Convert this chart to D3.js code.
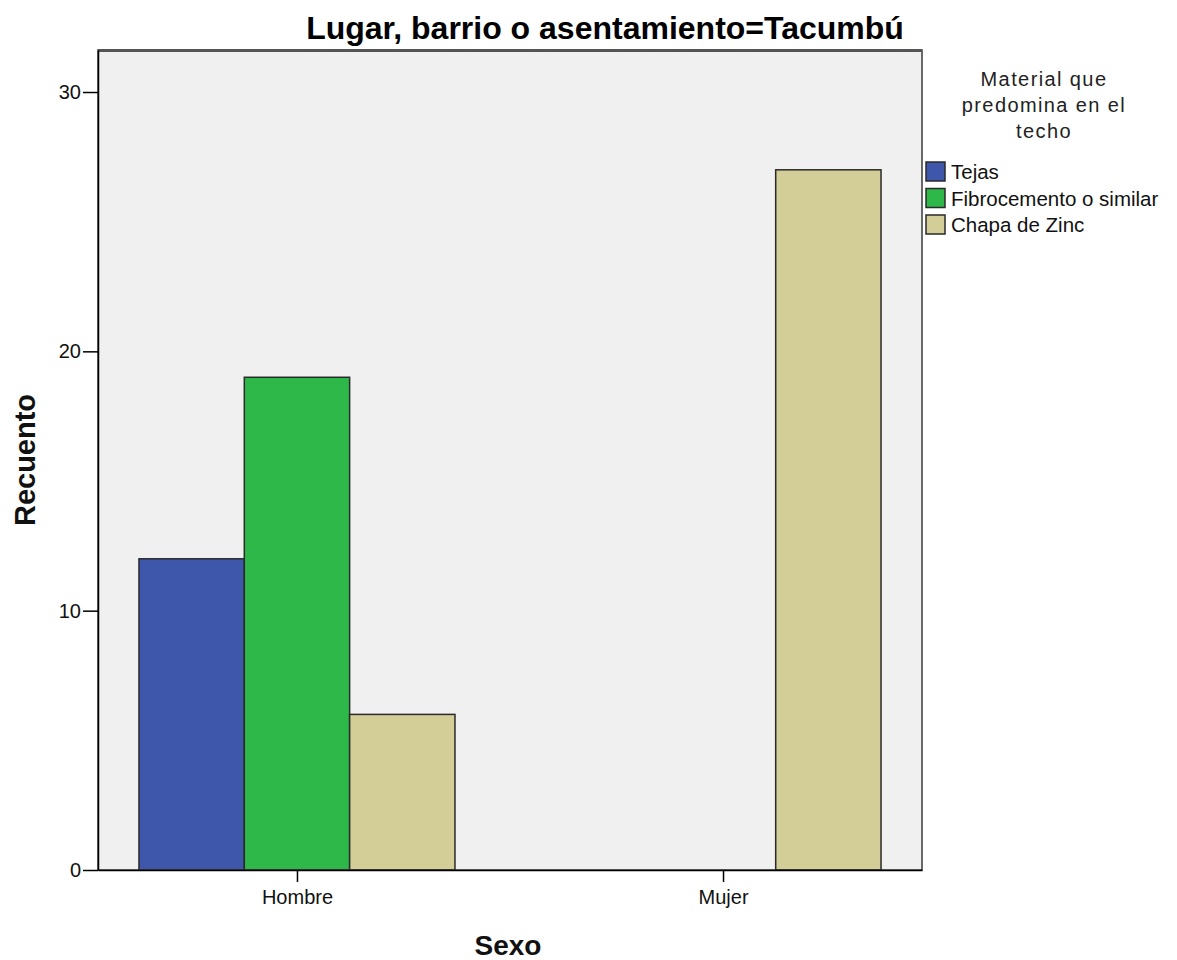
<!DOCTYPE html>
<html>
<head>
<meta charset="utf-8">
<script src="https://cdn.jsdelivr.net/npm/d3@7"></script>
<style>
  html, body { margin: 0; padding: 0; background: #fff; }
  svg { display: block; font-family: "Liberation Sans", Arial, sans-serif; }
</style>
</head>
<body>
<svg id="chart" width="1177" height="960"></svg>
<script>
// Counts of roof material by sex, Tacumbú
const categories = ["Hombre", "Mujer"];
const seriesNames = ["Tejas", "Fibrocemento o similar", "Chapa de Zinc"];
const tejas = [12, 0];
const fibrocemento = [19, 0];
const chapaZinc = [6, 27];
const yTicks = [0, 10, 20, 30];
const seriesColors = ["#3e57ab", "#2eb84a", "#d3cd97"];

const seriesValues = [tejas, fibrocemento, chapaZinc];

const svg = d3.select("#chart");
const plot = { left: 98, right: 922, top: 50, bottom: 870 };

const x0 = d3.scalePoint()
  .domain(categories)
  .range([plot.left, plot.right])
  .padding(0.467);

const x1 = d3.scaleBand()
  .domain(seriesNames)
  .range([-158, 158]);

const y = d3.scaleLinear()
  .domain([0, 31.62])
  .range([plot.bottom, plot.top]);

// plot background
svg.append("rect")
  .attr("x", plot.left).attr("y", plot.top)
  .attr("width", plot.right - plot.left)
  .attr("height", plot.bottom - plot.top)
  .attr("fill", "#f0f0f0");

// bars
const rows = [];
categories.forEach((c, i) => {
  seriesNames.forEach((s, j) => {
    const v = seriesValues[j][i];
    if (v > 0) rows.push({ cat: c, ser: s, value: v, color: seriesColors[j] });
  });
});

svg.append("g").selectAll("rect")
  .data(rows)
  .join("rect")
  .attr("x", d => x0(d.cat) + x1(d.ser))
  .attr("y", d => y(d.value))
  .attr("width", x1.bandwidth())
  .attr("height", d => y(0) - y(d.value))
  .attr("fill", d => d.color)
  .attr("stroke", "#2a2a2a")
  .attr("stroke-width", 1.5);

// frame
svg.append("rect")
  .attr("x", plot.left).attr("y", plot.top)
  .attr("width", plot.right - plot.left)
  .attr("height", plot.bottom - plot.top)
  .attr("fill", "none")
  .attr("stroke", "#3a3a3a")
  .attr("stroke-width", 1.5);
svg.append("line")
  .attr("x1", plot.left).attr("x2", plot.right)
  .attr("y1", plot.top + 0.5).attr("y2", plot.top + 0.5)
  .attr("stroke", "#555").attr("stroke-width", 3);

// y axis
const yAxis = svg.append("g")
  .attr("transform", `translate(${plot.left},0)`)
  .call(d3.axisLeft(y).tickValues(yTicks).tickSize(15).tickSizeOuter(0).tickPadding(2).tickFormat(d3.format("d")));
yAxis.select(".domain").attr("stroke", "#000").attr("stroke-width", 1.5);
yAxis.selectAll(".tick line").attr("stroke", "#000").attr("stroke-width", 1.5);
yAxis.selectAll(".tick text")
  .attr("font-size", 20).attr("fill", "#111")
  .attr("font-family", "Liberation Sans, Arial, sans-serif");

// x axis
const xAxis = svg.append("g")
  .attr("transform", `translate(0,${plot.bottom})`)
  .call(d3.axisBottom(x0).tickSize(12).tickSizeOuter(0).tickPadding(8));
xAxis.select(".domain").attr("stroke", "#000").attr("stroke-width", 1.5);
xAxis.selectAll(".tick line").attr("stroke", "#000").attr("stroke-width", 1.5);
xAxis.selectAll(".tick text")
  .attr("font-size", 20).attr("fill", "#111")
  .attr("font-family", "Liberation Sans, Arial, sans-serif");

// title
svg.append("text")
  .attr("x", 605).attr("y", 39)
  .attr("text-anchor", "middle")
  .attr("font-size", 32).attr("font-weight", "bold")
  .attr("fill", "#000")
  .text("Lugar, barrio o asentamiento=Tacumbú");

// axis titles
svg.append("text")
  .attr("x", 508).attr("y", 955)
  .attr("text-anchor", "middle")
  .attr("font-size", 28).attr("font-weight", "bold")
  .attr("fill", "#111")
  .text("Sexo");

svg.append("text")
  .attr("transform", "translate(35,460) rotate(-90)")
  .attr("text-anchor", "middle")
  .attr("font-size", 29).attr("font-weight", "bold")
  .attr("fill", "#111")
  .text("Recuento");

// legend
const legendTitle = ["Material que", "predomina en el", "techo"];
svg.append("g").selectAll("text")
  .data(legendTitle)
  .join("text")
  .attr("x", 1044)
  .attr("y", (d, i) => 86 + i * 26)
  .attr("text-anchor", "middle")
  .attr("font-size", 20)
  .attr("letter-spacing", 1.4)
  .attr("fill", "#222")
  .text(d => d);

const legend = svg.append("g").selectAll("g")
  .data(seriesNames)
  .join("g")
  .attr("transform", (d, i) => `translate(926,${162 + i * 26.5})`);
legend.append("rect")
  .attr("width", 19).attr("height", 19)
  .attr("fill", (d, i) => seriesColors[i])
  .attr("stroke", "#2a2a2a").attr("stroke-width", 1.5);
legend.append("text")
  .attr("x", 25).attr("y", 17)
  .attr("font-size", 20.5)
  .attr("fill", "#111")
  .text(d => d);
</script>
</body>
</html>
